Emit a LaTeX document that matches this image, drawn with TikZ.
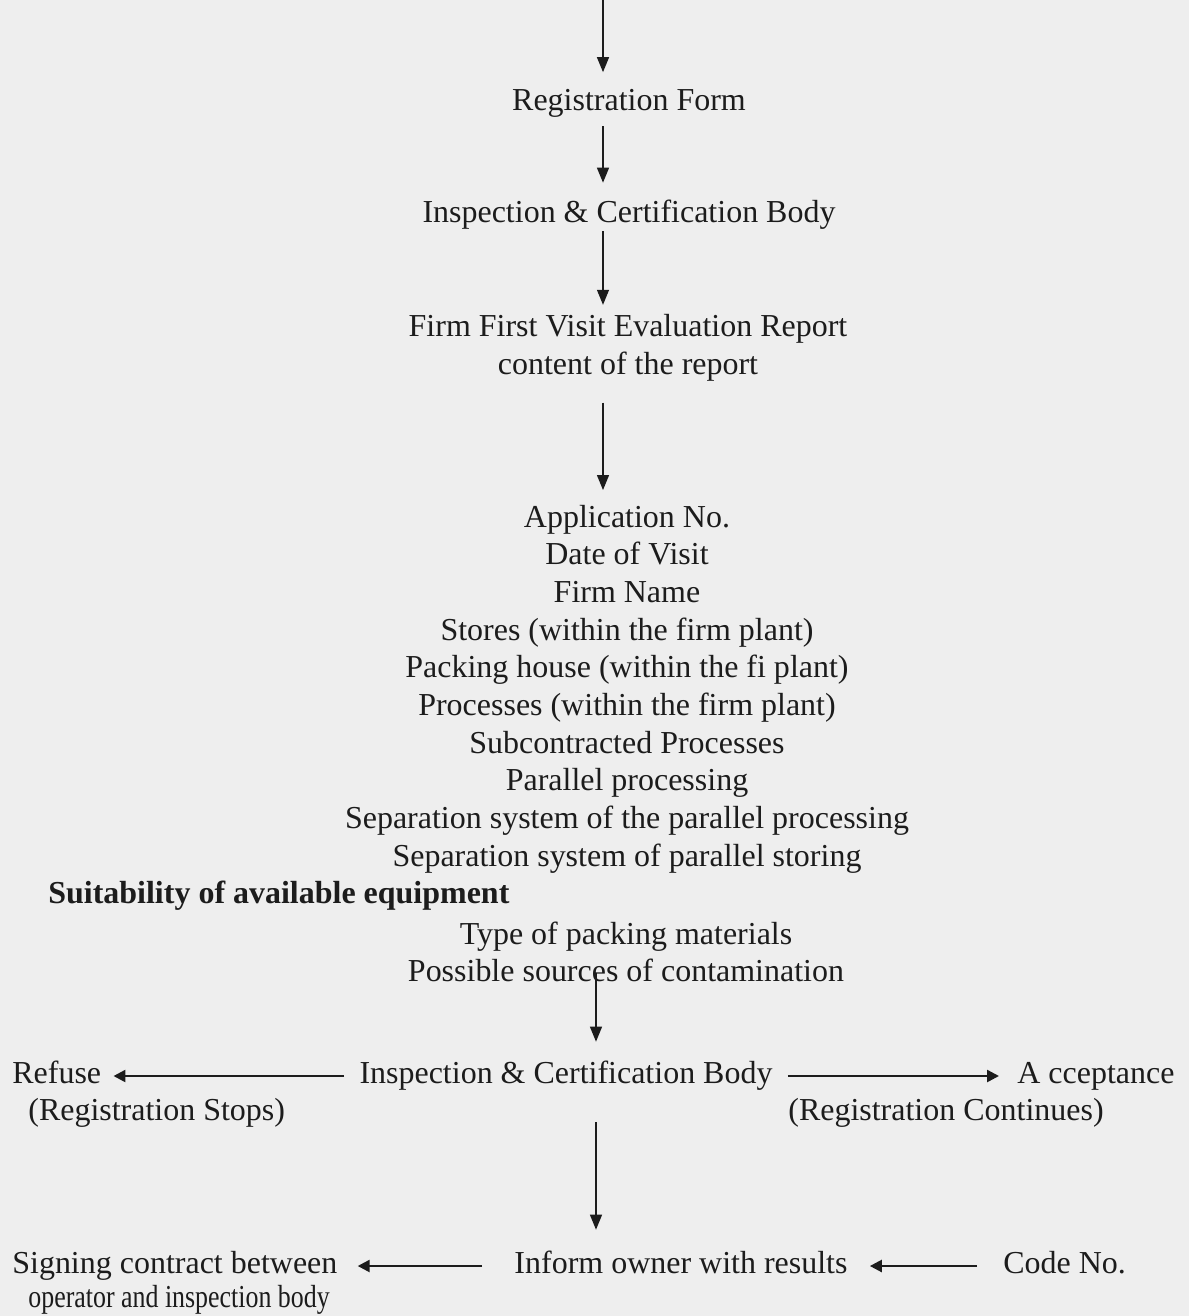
\documentclass[tikz,border=0pt]{standalone}
\usepackage{fontspec}
\setmainfont{Liberation Serif}
\usetikzlibrary{arrows.meta}
\definecolor{carta}{RGB}{238,238,238}
\definecolor{inchiostro}{RGB}{28,28,28}
\tikzset{
  testo/.style     = {inner sep=0, text=inchiostro, text height=12.5pt, text depth=4pt, font=\fontsize{18.2pt}{21.45pt}\selectfont},
  blocco/.style    = {inner sep=0, text=inchiostro, align=center, font=\fontsize{18.2pt}{21.45pt}\selectfont},
  freccia/.style   = {draw=inchiostro, line width=0.75pt, -{Triangle[length=0.3cm,width=0.24cm]}},
  frecciaor/.style = {draw=inchiostro, line width=1.4pt, -{Triangle[length=0.24cm,width=0.24cm]}}
}
\begin{document}
\begin{tikzpicture}[x=0.02cm,y=-0.02cm]
  \fill[carta] (0,0) rectangle (1189,1316);
  \useasboundingbox (0,0) rectangle (1189,1316);
  \coordinate (top) at (603,0); \coordinate (col) at (596,0);
  \node[testo] (reg)    at (629,103) {Registration Form};
  \node[testo] (icb)    at (629,215) {Inspection \& Certification Body};
  \node[blocco] (report) at (628,348) {Firm First Visit Evaluation Report\\content of the report};
  \node[blocco] (list)   at (627,689) {Application No.\\Date of Visit\\Firm Name\\Stores (within the firm plant)\\Packing house (within the fi plant)\\Processes (within the firm plant)\\Subcontracted Processes\\Parallel processing\\Separation system of the parallel processing\\Separation system of parallel storing};
  \node[testo,anchor=west,font=\fontsize{18.2pt}{21.45pt}\selectfont\bfseries] (suit) at (48,896) {Suitability of available equipment};
  \node[blocco] (tail)   at (626,952) {Type of packing materials\\Possible sources of contamination};
  \node[testo] (icbb)   at (566,1076) {Inspection \& Certification Body};
  \node[testo,anchor=west] (refuse) at (12,1076) {Refuse};
  \node[testo,anchor=west] (stops)  at (28,1113) {(Registration Stops)};
  \node[testo,anchor=west] (accept) at (1017,1076) {A cceptance};
  \node[testo] (cont)   at (946,1113) {(Registration Continues)};
  \node[testo] (inform) at (681,1266) {Inform owner with results};
  \node[testo,anchor=west] (sign) at (12,1266) {Signing contract between};
  \node[testo,anchor=west] (oper) at (28,1300) {\scalebox{0.81}[1]{operator and inspection body}};
  \node[testo,anchor=west] (code) at (1003,1266) {Code No.};
  \draw[freccia, shorten >=0.32cm] (top) -- (reg.north -| top);
  \draw[freccia, shorten <=0.17cm, shorten >=0.35cm] (reg.south -| top) -- (icb.north -| top);
  \draw[freccia, shorten <=0.03cm, shorten >=0.19cm] (icb.south -| top) -- (report.north -| top);
  \draw[freccia, shorten <=0.42cm, shorten >=0.29cm] (report.south -| top) -- (list.north -| top);
  \draw[freccia, shorten <=-0.2cm, shorten >=0.39cm] (tail.south -| col) -- (icbb.north -| col);
  \draw[freccia, shorten <=0.63cm, shorten >=0.43cm] (icbb.south -| col) -- (inform.north -| col);
  \draw[frecciaor, shorten <=0.3cm, shorten >=0.24cm] (icbb.west) -- (refuse.east);
  \draw[frecciaor, shorten <=0.3cm, shorten >=0.36cm] (icbb.east) -- (accept.west);
  \draw[frecciaor, shorten <=0.64cm, shorten >=0.4cm] (inform.west) -- (sign.east);
  \draw[frecciaor, shorten <=0.52cm, shorten >=0.44cm] (code.west) -- (inform.east);
\end{tikzpicture}
\end{document}
